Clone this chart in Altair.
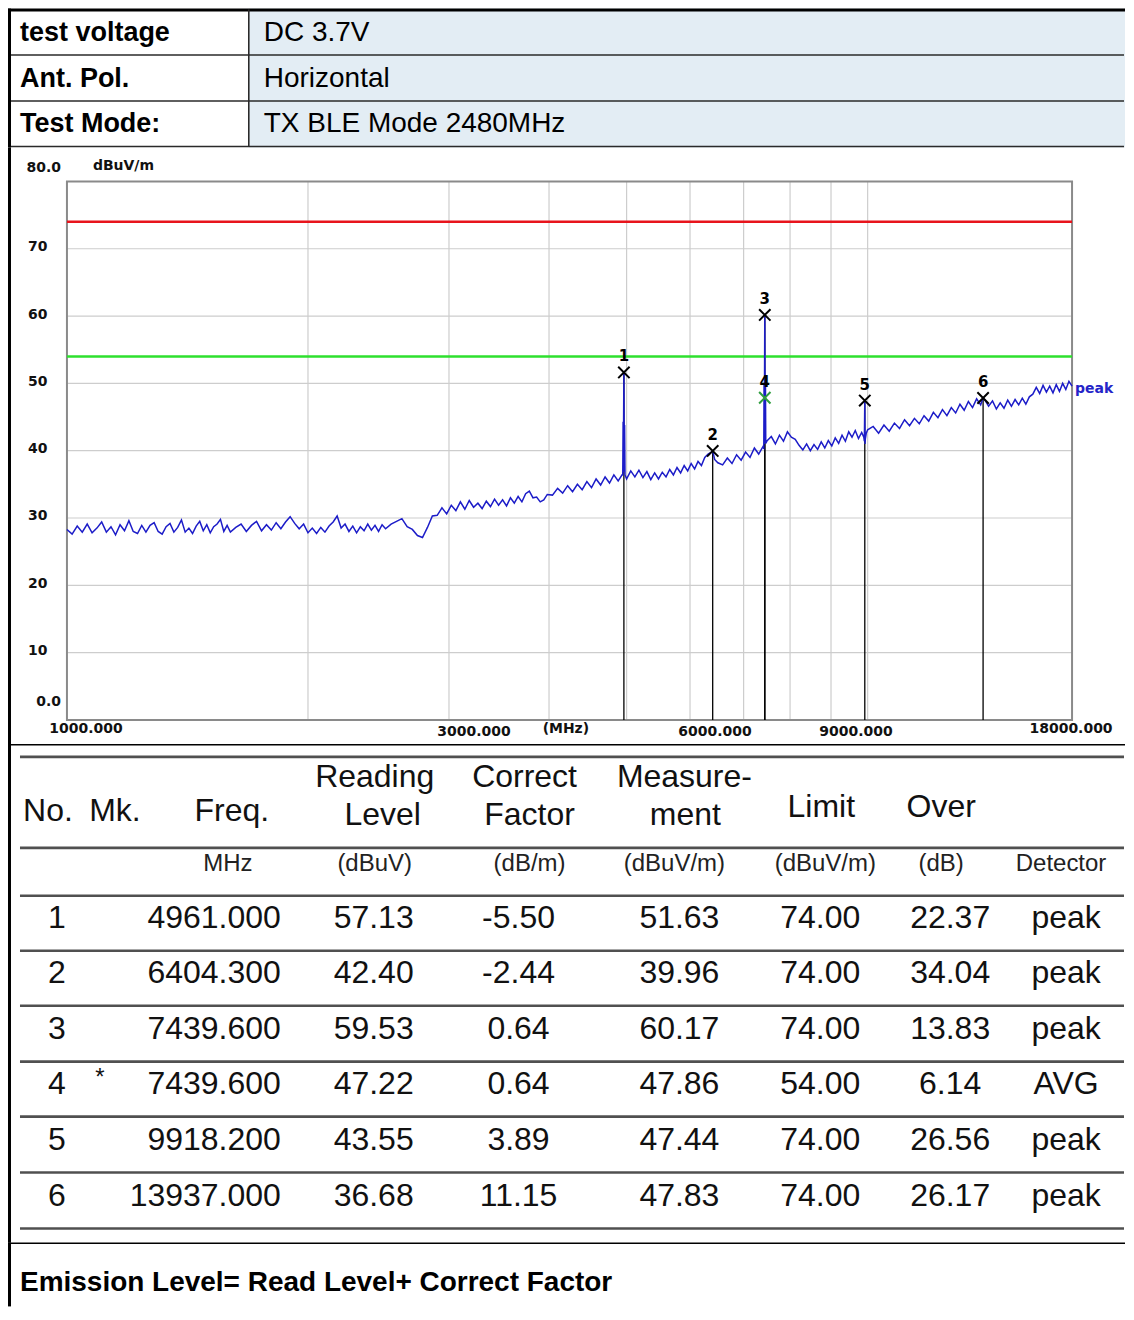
import altair as alt
import pandas as pd

# ---------------- data ----------------
INFO_LABELS = ["test voltage", "Ant. Pol.", "Test Mode:"]
INFO_VALUES = ["DC 3.7V", "Horizontal", "TX BLE Mode 2480MHz"]

TRACE_FREQ = [
    1000, 1015, 1030, 1045, 1060, 1075, 1090, 1105, 1120, 1135, 1150, 1165, 1180, 1195,
    1210, 1225, 1240, 1255, 1270, 1285, 1300, 1315, 1330, 1345, 1360, 1375, 1390, 1405,
    1420, 1435, 1450, 1465, 1480, 1495, 1510, 1525, 1540, 1555, 1570, 1585, 1600,
    1625, 1650, 1675, 1700, 1725, 1750, 1775, 1800, 1825, 1850, 1875, 1900, 1925, 1950,
    1975, 2000, 2025, 2050, 2075, 2100, 2125, 2150, 2175, 2200, 2225, 2250, 2275, 2300,
    2325, 2350, 2375, 2400, 2425, 2450, 2475, 2500,
    2540, 2580, 2620, 2660, 2700, 2740, 2780, 2820, 2860, 2900, 2940, 2980, 3020, 3060,
    3100, 3140, 3180, 3220, 3260, 3300, 3340, 3380, 3420, 3460, 3500, 3540, 3580, 3620,
    3660, 3700, 3740, 3780, 3820, 3860, 3900, 3940, 3980,
    4040, 4100, 4160, 4220, 4280, 4340, 4400, 4460, 4520, 4580, 4640, 4700, 4760, 4820,
    4880, 4940, 5000, 5060, 5120, 5180, 5240, 5300, 5360, 5420, 5480, 5540, 5600, 5660,
    5720, 5780, 5840, 5900, 5960, 6020, 6080, 6140, 6200, 6260, 6320, 6380, 6440, 6500,
    6590, 6680, 6770, 6860, 6950, 7040, 7130, 7220, 7310, 7400, 7490, 7580, 7670, 7760,
    7850, 7940, 8030, 8120, 8210, 8300, 8390, 8480, 8570, 8660, 8750, 8840, 8930, 9020,
    9110, 9200, 9290, 9380, 9470, 9560, 9650, 9740, 9830,
    10000, 10160, 10320, 10480, 10640, 10800, 10960, 11120, 11280, 11440, 11600, 11760,
    11920, 12080, 12240, 12400, 12560, 12720, 12880, 13040, 13200, 13360, 13520, 13680,
    13840, 14000, 14160, 14320, 14480, 14640, 14800, 14960, 15120, 15280, 15440, 15600,
    15760, 15920, 16080, 16240, 16400, 16560, 16720, 16880, 17040, 17200, 17360, 17520,
    17680, 17840, 18000,
]
TRACE_LEVEL = [
    28.3, 27.6, 28.8, 27.9, 29.1, 27.8, 28.5, 29.4, 27.9, 28.7, 27.5, 29.0, 28.1, 29.6,
    28.0, 27.7, 28.9, 27.9, 28.9, 29.3, 28.0, 27.6, 28.7, 29.2, 27.9, 28.6, 29.7, 27.9,
    28.5, 27.7, 28.8, 29.5, 28.1, 29.0, 27.8, 28.7, 29.1, 29.8, 28.0, 28.9, 27.9,
    28.6, 29.1, 28.0, 28.9, 29.5, 28.1, 29.0, 28.2, 29.3, 28.4, 29.4, 30.2, 29.2, 28.4,
    29.1, 27.8, 28.5, 27.7, 28.6, 27.9, 28.8, 29.4, 30.3, 28.5, 29.1, 28.0, 28.8, 27.8,
    28.7, 28.1, 29.1, 28.2, 28.9, 28.0, 29.0, 28.4,
    29.1, 29.5, 29.9, 28.7, 28.3, 27.4, 27.1, 28.6, 30.3, 30.4, 31.5, 30.6, 31.9, 31.1,
    32.4, 31.3, 32.6, 31.6, 32.2, 31.4, 32.5, 31.7, 32.8, 31.9, 32.7, 31.8, 33.0, 32.2,
    33.2, 32.4, 33.6, 34.0, 33.0, 33.1, 32.4, 32.7, 33.5,
    33.4, 34.4, 33.7, 34.8, 33.9, 35.0, 34.2, 35.4, 34.5, 35.8, 34.9, 36.1, 35.2, 36.4,
    35.5, 36.5, 35.8, 37.0, 36.1, 37.1, 36.0, 36.9, 35.7, 36.7, 35.8, 36.8, 36.1, 37.2,
    36.4, 37.5, 36.7, 37.8, 37.0, 38.1, 37.3, 38.4, 37.8, 39.0, 39.5, 39.8, 38.7, 38.2,
    37.9, 38.9, 38.1, 39.4, 38.6, 39.8, 39.0, 40.4, 39.5, 40.6, 41.5, 42.1, 41.0, 42.3,
    41.4, 42.8, 42.0, 41.7, 40.8, 40.1, 41.0, 40.0, 40.9, 40.2, 41.3, 40.4, 41.5, 40.7,
    41.9, 41.1, 42.3, 41.4, 42.8, 42.0, 43.0, 41.8, 42.7,
    43.1, 43.6, 42.6, 43.8, 42.9, 44.1, 43.3, 44.6, 43.7, 44.8, 44.0, 45.2,
    44.4, 45.7, 44.9, 46.1, 45.2, 46.4, 45.6, 46.9, 46.0, 47.3, 46.4, 47.7,
    46.8, 47.6, 46.6, 47.4, 46.2, 47.1, 46.3, 47.5, 46.6, 47.6, 46.8, 47.8,
    46.9, 48.0, 48.4, 49.4, 48.5, 49.7, 48.7, 49.6, 48.6, 49.8, 48.8, 50.0,
    49.1, 50.3, 49.6,
]
# emission spikes and marker points on the trace
SPIKE_FREQ = [4945, 4950, 4954, 4957, 4961.0, 4964, 4967, 4971, 4977, 6404.3,
              7418, 7424, 7429, 7434, 7439.6, 7444, 7449, 7454, 7460,
              9890, 9906, 9912, 9918.2, 9924, 9935, 9960, 13937.0]
SPIKE_LEVEL = [36.3, 44.3, 36.8, 44.6, 51.63, 44.2, 37.0, 43.8, 36.4, 39.96,
               40.4, 50.0, 41.0, 50.3, 60.17, 49.8, 41.2, 49.5, 41.1,
               42.0, 41.4, 44.3, 47.44, 41.0, 41.8, 42.6, 47.83]

LIMIT_LINES = [74.0, 54.0]
LIMIT_KIND = ["peak limit", "avg limit"]

MARK_NO = [1, 2, 3, 4, 5, 6]
MARK_MK = ["", "", "", "*", "", ""]
MARK_FREQ = [4961.000, 6404.300, 7439.600, 7439.600, 9918.200, 13937.000]
READING = [57.13, 42.40, 59.53, 47.22, 43.55, 36.68]
CORRECT = [-5.50, -2.44, 0.64, 0.64, 3.89, 11.15]
MEASURE = [51.63, 39.96, 60.17, 47.86, 47.44, 47.83]
LIMIT = [74.00, 74.00, 74.00, 54.00, 74.00, 74.00]
OVER = [22.37, 34.04, 13.83, 6.14, 26.56, 26.17]
DETECTOR = ["peak", "peak", "peak", "AVG", "peak", "peak"]

Y_GRID = [10, 20, 30, 40, 50, 60, 70]
Y_MID_VALUES = [10, 20, 30, 40, 50, 60, 70]
Y_MID_LABELS = ["10", "20", "30", "40", "50", "60", "70"]
Y_END_VALUES = [0, 80]
Y_END_LABELS = ["0.0", "80.0"]
X_GRID = [2000, 3000, 4000, 5000, 6000, 7000, 8000, 9000, 10000]
X_MID_VALUES = [3000, 6000, 9000]
X_MID_LABELS = ["3000.000", "6000.000", "9000.000"]
X_FIRST = (1000, "1000.000")
X_LAST = (18000, "18000.000")
Y_UNIT = "dBuV/m"
X_UNIT = "(MHz)"

HEAD_WORDS = [("No.", 40, 67), ("Mk.", 107, 67), ("Freq.", 224, 67),
              ("Reading", 367, 33), ("Level", 375, 71),
              ("Correct", 517, 33), ("Factor", 522, 71),
              ("Measure-", 677, 33), ("ment", 678, 71),
              ("Limit", 814, 63), ("Over", 934, 63)]
UNIT_WORDS = [("MHz", 220), ("(dBuV)", 367), ("(dB/m)", 522), ("(dBuV/m)", 667),
              ("(dBuV/m)", 818), ("(dB)", 934), ("Detector", 1054)]
FOOTER = "Emission Level= Read Level+ Correct Factor"

# ---------------- layout ----------------
W = 1118
H_HEAD, H_PLOT, H_TAB, H_FOOT = 139, 597, 499, 64
SANS = "Liberation Sans"
LBL_FONT = "DejaVu Sans"

XS = alt.Scale(type="log", domain=[1000, 18000], range=[59, 1065], nice=False)
YS = alt.Scale(domain=[0, 80], range=[573, 34], nice=False, zero=False)


def fx(field="f"):
    return alt.X(f"{field}:Q", scale=XS, axis=None)


def fy(field="L"):
    return alt.Y(f"{field}:Q", scale=YS, axis=None)


def px(field, w=W):
    return alt.X(f"{field}:Q", scale=alt.Scale(domain=[0, w], range=[0, w], nice=False, zero=False), axis=None)


def py(field, h):
    return alt.Y(f"{field}:Q", scale=alt.Scale(domain=[0, h], range=[0, h], nice=False, zero=False), axis=None)


def left_border(h):
    return alt.Chart(pd.DataFrame({"a": [0]})).mark_rect(color="#000000").encode(
        x=alt.value(0), x2=alt.value(3), y=alt.value(0), y2=alt.value(h))


def hbar(h, y0, y1, color, x0=0, x1=W):
    return alt.Chart(pd.DataFrame({"x": [x0], "x2": [x1], "y": [y0], "y2": [y1]})).mark_rect(
        color=color).encode(x=px("x"), x2="x2:Q", y=py("y", h), y2="y2:Q")


# ---------------- header panel ----------------
hh = H_HEAD
head_bg = alt.Chart(pd.DataFrame({"x": [241], "x2": [W], "y": [0], "y2": [hh]})).mark_rect(
    color="#e3edf4").encode(x=px("x"), x2="x2:Q", y=py("y", hh), y2="y2:Q")
head_hlines = alt.Chart(pd.DataFrame({"y": [46.5, 92.5, 138], "x": 1, "x2": W - 1})).mark_rule(
    color="#2a2a2a", strokeWidth=1.6).encode(x=px("x"), x2="x2:Q", y=py("y", hh))
head_top = hbar(hh, 0, 3, "#000000")
head_vline = alt.Chart(pd.DataFrame({"x": [241], "y": 1, "y2": hh - 1})).mark_rule(
    color="#2a2a2a", strokeWidth=1.6).encode(x=px("x"), y=py("y", hh), y2="y2:Q")
head_rows = pd.DataFrame({"lab": INFO_LABELS, "val": INFO_VALUES,
                          "y": [24, 70, 116], "xl": 12, "xv": 256})
head_lab = alt.Chart(head_rows).mark_text(
    align="left", baseline="middle", font=SANS, fontSize=27, fontWeight="bold", color="#000000").encode(
    x=px("xl"), y=py("y", hh), text="lab:N")
head_val = alt.Chart(head_rows).mark_text(
    align="left", baseline="middle", font=SANS, fontSize=28, color="#000000").encode(
    x=px("xv"), y=py("y", hh), text="val:N")
header = alt.layer(head_bg, head_hlines, head_top, head_vline, head_lab, head_val,
                   left_border(hh)).properties(width=W, height=hh)

# ---------------- plot panel ----------------
trace_df = pd.DataFrame({"f": TRACE_FREQ + SPIKE_FREQ, "L": TRACE_LEVEL + SPIKE_LEVEL}).sort_values("f")
mk_df = pd.DataFrame({"no": MARK_NO, "f": MARK_FREQ, "L": MEASURE, "L0": 0})

hgrid = alt.Chart(pd.DataFrame({"L": Y_GRID, "f": 1000, "f2": 18000})).mark_rule(
    color="#cdcdcd", strokeWidth=1.2).encode(x=fx(), x2="f2:Q", y=fy())
vgrid = alt.Chart(pd.DataFrame({"f": X_GRID, "L": 0, "L2": 80})).mark_rule(
    color="#cdcdcd", strokeWidth=1.2).encode(x=fx(), y=fy(), y2="L2:Q")
frame = alt.Chart(pd.DataFrame({"f": [1000], "f2": [18000], "L": [0], "L2": [80]})).mark_rect(
    fillOpacity=0, stroke="#8a8a8a", strokeWidth=2).encode(x=fx(), x2="f2:Q", y=fy(), y2="L2:Q")
limits = alt.Chart(pd.DataFrame({"L": LIMIT_LINES, "kind": LIMIT_KIND, "f": 1000, "f2": 18000})).mark_rule(
    strokeWidth=2.4).encode(
    x=fx(), x2="f2:Q", y=fy(),
    color=alt.Color("kind:N", scale=alt.Scale(domain=LIMIT_KIND, range=["#e8141c", "#2ee02e"]), legend=None))
mk_rules = alt.Chart(mk_df).mark_rule(color="#000000", strokeWidth=1.3).encode(
    x=fx(), y=fy("L0"), y2="L:Q")
trace = alt.Chart(trace_df).mark_line(color="#1c1cc8", strokeWidth=1.5).encode(x=fx(), y=fy())
mk_x = alt.Chart(mk_df).mark_point(
    shape="M-1,-1L1,1M-1,1L1,-1", size=130, strokeWidth=2, filled=False, opacity=1).encode(
    x=fx(), y=fy(),
    color=alt.condition("datum.no == 4", alt.value("#2e9e3e"), alt.value("#000000")))
mk_lbl = alt.Chart(mk_df).mark_text(
    dy=-16, baseline="middle", font=LBL_FONT, fontSize=15, fontWeight="bold", color="#000000").encode(
    x=fx(), y=fy(), text="no:N")

LBL = dict(font=LBL_FONT, fontSize=14, fontWeight="bold", color="#111111", baseline="middle")
y_mid = alt.Chart(pd.DataFrame({"L": Y_MID_VALUES, "t": Y_MID_LABELS, "f": 1000})).mark_text(
    align="left", dx=-39, dy=-1.5, **LBL).encode(x=fx(), y=fy(), text="t:N")
y_top = alt.Chart(pd.DataFrame({"L": [Y_END_VALUES[1]], "t": [Y_END_LABELS[1]], "f": 1000})).mark_text(
    align="right", dx=-6, dy=-13, **LBL).encode(x=fx(), y=fy(), text="t:N")
y_bot = alt.Chart(pd.DataFrame({"L": [Y_END_VALUES[0]], "t": [Y_END_LABELS[0]], "f": 1000})).mark_text(
    align="right", dx=-6, dy=-18, **LBL).encode(x=fx(), y=fy(), text="t:N")
x_first = alt.Chart(pd.DataFrame({"f": [X_FIRST[0]], "t": [X_FIRST[1]], "L": 0})).mark_text(
    align="center", dx=19, dy=9, **LBL).encode(x=fx(), y=fy(), text="t:N")
x_last = alt.Chart(pd.DataFrame({"f": [X_LAST[0]], "t": [X_LAST[1]], "L": 0})).mark_text(
    align="center", dx=-1, dy=9, **LBL).encode(x=fx(), y=fy(), text="t:N")
x_mid = alt.Chart(pd.DataFrame({"f": X_MID_VALUES, "t": X_MID_LABELS, "L": 0})).mark_text(
    align="center", dx=25, dy=12, **LBL).encode(x=fx(), y=fy(), text="t:N")
x_unit = alt.Chart(pd.DataFrame({"f": [3000], "t": [X_UNIT], "L": 0})).mark_text(
    align="center", dx=117, dy=9, **LBL).encode(x=fx(), y=fy(), text="t:N")
y_unit = alt.Chart(pd.DataFrame({"f": [1000], "t": [Y_UNIT], "L": 80})).mark_text(
    align="left", dx=26, dy=-15, **LBL).encode(x=fx(), y=fy(), text="t:N")
peak_lbl = alt.Chart(pd.DataFrame({"f": [18000], "t": ["peak"], "L": [TRACE_LEVEL[-1]]})).mark_text(
    align="left", dx=3, dy=3, font=LBL_FONT, fontSize=14, fontWeight="bold", color="#2424c8",
    baseline="middle").encode(x=fx(), y=fy(), text="t:N")

plot = alt.layer(hgrid, vgrid, frame, mk_rules, limits, trace, mk_x, mk_lbl,
                 y_mid, y_top, y_bot, x_first, x_last, x_mid, x_unit, y_unit, peak_lbl,
                 left_border(H_PLOT)).properties(width=W, height=H_PLOT)

# ---------------- data table panel ----------------
ht = H_TAB
TAB_LINES = [13, 104, 152, 207, 262, 318, 373, 429, 485]
row_mid = [(TAB_LINES[2 + i] + TAB_LINES[3 + i]) / 2 - 5 for i in range(6)]

tab_top = hbar(ht, 0, 1.6, "#000000")
tab_lines = alt.Chart(pd.DataFrame({"y": TAB_LINES, "x": 12, "x2": 1117})).mark_rule(
    color="#505050", strokeWidth=2.6).encode(x=px("x"), x2="x2:Q", y=py("y", ht))
head_df = pd.DataFrame({"t": [w[0] for w in HEAD_WORDS], "x": [w[1] for w in HEAD_WORDS],
                        "y": [w[2] for w in HEAD_WORDS]})
tab_head = alt.Chart(head_df).mark_text(
    align="center", baseline="middle", font=SANS, fontSize=32, color="#111111").encode(
    x=px("x"), y=py("y", ht), text="t:N")
unit_df = pd.DataFrame({"t": [w[0] for w in UNIT_WORDS], "x": [w[1] for w in UNIT_WORDS], "y": 120})
tab_unit = alt.Chart(unit_df).mark_text(
    align="center", baseline="middle", font=SANS, fontSize=24, color="#222222").encode(
    x=px("x"), y=py("y", ht), text="t:N")

COLS = [(49, [str(n) for n in MARK_NO]),
        (366, [f"{v:.2f}" for v in READING]),
        (511, [f"{v:.2f}" for v in CORRECT]),
        (672, [f"{v:.2f}" for v in MEASURE]),
        (813, [f"{v:.2f}" for v in LIMIT]),
        (943, [f"{v:.2f}" for v in OVER]),
        (1059, DETECTOR)]
cells = []
for cx, texts in COLS:
    for i, t in enumerate(texts):
        cells.append({"x": cx, "y": row_mid[i], "t": t})
cell_df = pd.DataFrame(cells)
tab_cells = alt.Chart(cell_df).mark_text(
    align="center", baseline="middle", font=SANS, fontSize=32, color="#111111").encode(
    x=px("x"), y=py("y", ht), text="t:N")
freq_df = pd.DataFrame({"t": [f"{v:.3f}" for v in MARK_FREQ], "y": row_mid, "x": 273})
tab_freq = alt.Chart(freq_df).mark_text(
    align="right", baseline="middle", font=SANS, fontSize=32, color="#111111").encode(
    x=px("x"), y=py("y", ht), text="t:N")
star_df = pd.DataFrame({"t": MARK_MK, "y": row_mid, "x": 92})
tab_star = alt.Chart(star_df).mark_text(
    align="center", baseline="middle", font=SANS, fontSize=24, dy=-6, color="#111111").encode(
    x=px("x"), y=py("y", ht), text="t:N")
table = alt.layer(tab_top, tab_lines, tab_head, tab_unit, tab_cells, tab_freq, tab_star,
                  left_border(ht)).properties(width=W, height=ht)

# ---------------- footer panel ----------------
hf = H_FOOT
foot_top = hbar(hf, 0, 1.6, "#000000")
foot_txt = alt.Chart(pd.DataFrame({"t": [FOOTER], "x": [12], "y": [41]})).mark_text(
    align="left", baseline="middle", font=SANS, fontSize=28, fontWeight="bold", color="#000000").encode(
    x=px("x"), y=py("y", hf), text="t:N")
footer = alt.layer(foot_top, foot_txt, left_border(hf)).properties(width=W, height=hf)

chart = alt.vconcat(header, plot, table, footer, spacing=0, bounds="flush").properties(
    padding=0).configure_view(strokeWidth=0)

chart.save("out.html", embed_options={"renderer": "svg", "actions": False})
